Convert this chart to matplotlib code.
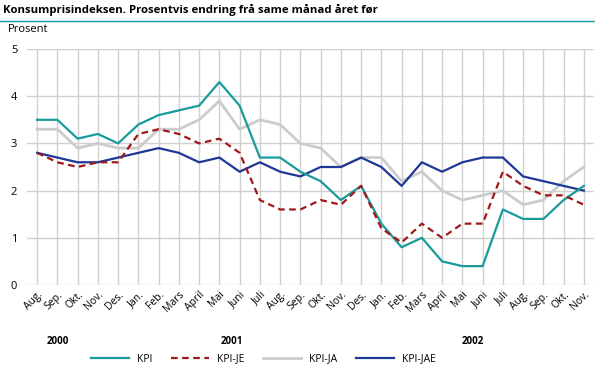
import numpy as np
import matplotlib.pyplot as plt
from matplotlib.lines import Line2D

plt.rcParams['font.family'] = ['Open Sans', 'DejaVu Sans']

months = ['Aug.', 'Sep.', 'Okt.', 'Nov.', 'Des.',
          'Jan.', 'Feb.', 'Mars', 'April', 'Mai', 'Juni', 'Juli', 'Aug.', 'Sep.', 'Okt.', 'Nov.', 'Des.',
          'Jan.', 'Feb.', 'Mars', 'April', 'Mai', 'Juni', 'Juli', 'Aug.', 'Sep.', 'Okt.', 'Nov.']
years = ['2000', '2001', '2002']
year_pos = [1.0, 9.6, 21.5]

kpi = [3.5, 3.5, 3.1, 3.2, 3.0, 3.4, 3.6, 3.7, 3.8, 4.3, 3.8, 2.7, 2.7, 2.4,
       2.2, 1.8, 2.1, 1.3, 0.8, 1.0, 0.5, 0.4, 0.4, 1.6, 1.4, 1.4, 1.8, 2.1]
kpi_je = [2.8, 2.6, 2.5, 2.6, 2.6, 3.2, 3.3, 3.2, 3.0, 3.1, 2.8, 1.8, 1.6, 1.6,
          1.8, 1.7, 2.1, 1.2, 0.9, 1.3, 1.0, 1.3, 1.3, 2.4, 2.1, 1.9, 1.9, 1.7]
kpi_ja = [3.3, 3.3, 2.9, 3.0, 2.9, 2.9, 3.3, 3.3, 3.5, 3.9, 3.3, 3.5, 3.4, 3.0,
          2.9, 2.5, 2.7, 2.7, 2.2, 2.4, 2.0, 1.8, 1.9, 2.0, 1.7, 1.8, 2.2, 2.5]
kpi_jae = [2.8, 2.7, 2.6, 2.6, 2.7, 2.8, 2.9, 2.8, 2.6, 2.7, 2.4, 2.6, 2.4, 2.3,
           2.5, 2.5, 2.7, 2.5, 2.1, 2.6, 2.4, 2.6, 2.7, 2.7, 2.3, 2.2, 2.1, 2.0]

fig = plt.figure(figsize=(5.95, 3.82), dpi=100)
ax = fig.add_axes([27/595, 1 - 285/382, 567/595, 236/382])

x = np.arange(len(months))
ax.plot(x, kpi_ja, color='#cccccc', lw=2, label='KPI-JA', zorder=3)
ax.plot(x, kpi_jae, color='#1f3796', lw=1.6, label='KPI-JAE', zorder=4)
ax.plot(x, kpi, color='#1a9b9b', lw=1.6, label='KPI', zorder=5)
ax.plot(x, kpi_je, color='#a01818', lw=1.6, ls=(0, (3, 2)), label='KPI-JE', zorder=6)

ax.set_xlim(-0.5, 27.5)
ax.set_ylim(0, 5)
ax.set_yticks(range(6))
ax.set_xticks(x)
ax.set_xticklabels(months, rotation=45, ha='right', rotation_mode='anchor', fontsize=7.5)
ax.tick_params(axis='y', labelsize=8, length=0, pad=7)
ax.tick_params(axis='x', length=0, pad=3)
ax.grid(True, color='#d0d0d0', lw=1)
ax.set_axisbelow(True)
for s in ax.spines.values():
    s.set_visible(False)

for yr, p in zip(years, year_pos):
    ax.text(p, -0.24, yr, transform=ax.get_xaxis_transform(), ha='center', va='center',
            fontsize=7, fontweight='bold')

fig.text(0.005, 1 - 10/382, 'Konsumprisindeksen. Prosentvis endring frå same månad året før',
         fontsize=8.2, fontweight='bold', va='center', ha='left')
fig.add_artist(Line2D([0, 1], [1 - 21/382, 1 - 21/382], color='#1a9b9b', lw=1))
fig.text(8/595, 1 - 30/382, 'Prosent', fontsize=8, va='center', ha='left')

handles = [Line2D([], [], color='#1a9b9b', lw=1.6),
           Line2D([], [], color='#a01818', lw=1.6, ls=(0, (3, 2))),
           Line2D([], [], color='#cccccc', lw=2),
           Line2D([], [], color='#1f3796', lw=1.6)]
fig.legend(handles, ['KPI', 'KPI-JE', 'KPI-JA', 'KPI-JAE'], loc='center',
           bbox_to_anchor=(0.443, 1 - 359/382), ncol=4, frameon=False, fontsize=7.5,
           handlelength=3.6, columnspacing=1.8, handletextpad=0.8)

fig.savefig('out.png', dpi=100)
